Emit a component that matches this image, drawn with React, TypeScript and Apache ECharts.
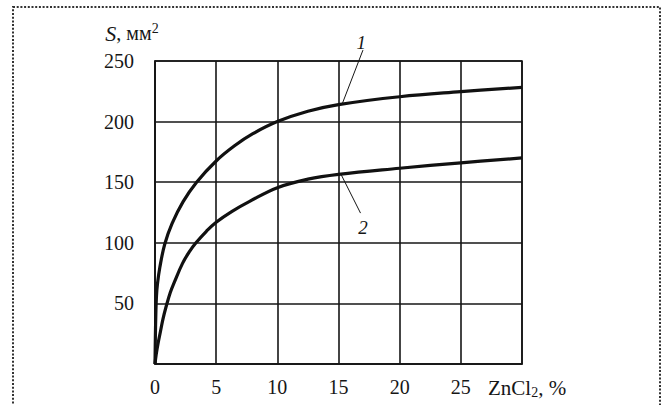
import { useEffect, useRef } from 'react';
import * as echarts from 'echarts';

// Concentration of ZnCl2, % (tick labels on the x axis)
const xTickLabels = ['0', '5', '10', '15', '20', '25'];
// S, mm² tick labels on the y axis
const yTickLabels = ['50', '100', '150', '200', '250'];

// Curve 1
const curve1X = [0, 0.03, 0.07, 0.12, 0.2, 0.4, 0.8, 1.4, 2.3, 3.4, 5, 6.5, 8, 10, 12.5, 15, 20, 25, 30];
const curve1S = [0, 22, 42, 56, 66, 80, 99, 116, 134, 150, 167.5, 180, 190, 200, 208.5, 214, 220.5, 224.7, 228.3];
// Curve 2
const curve2X = [0, 0.1, 0.25, 0.45, 0.65, 0.9, 1.25, 1.6, 2.25, 2.8, 3.35, 4.2, 5, 6.3, 7.7, 10, 12.5, 15, 20, 25, 30];
const curve2S = [0, 8, 17, 27, 37, 47, 59, 68, 83, 92.5, 100, 109.5, 117, 126, 134, 145.5, 152.5, 156.5, 161.5, 166, 170];

const curveLabels = ['1', '2'];
// Leader lines in data units: [point on the curve, free end]
const leader1 = [[15.3, 214.5], [17.0, 259]];
const leader2 = [[15.2, 156.6], [16.8, 124.5]];
// Positions of the curve numbers in data units
const label1At = [16.85, 265];
const label2At = [17.0, 113];

const FONT = '"Liberation Serif", "Times New Roman", serif';
const INK = '#161616';

export default function App() {
  const ref = useRef<HTMLDivElement>(null);

  useEffect(() => {
    if (!ref.current) return;
    const chart = echarts.init(ref.current, undefined, { renderer: 'svg' });

    const option: any = {
      animation: false,
      backgroundColor: '#ffffff',
      grid: {
        left: 155,
        right: 145,
        top: 61,
        bottom: 41,
        show: true,
        borderColor: INK,
        borderWidth: 1.6,
        containLabel: false,
      },
      xAxis: {
        type: 'value',
        min: 0,
        max: 30,
        interval: 5,
        name: '{n|ZnCl}{s|2}{n|, %}',
        nameLocation: 'end',
        nameGap: -34,
        nameTextStyle: {
          align: 'left',
          verticalAlign: 'top',
          padding: [12, 0, 0, 0],
          rich: {
            n: { fontFamily: FONT, fontSize: 21, color: INK },
            s: { fontFamily: FONT, fontSize: 14, color: INK, padding: [9, 0, 0, 0] },
          },
        },
        axisLine: { show: true, lineStyle: { color: INK, width: 1.6 } },
        axisTick: { show: false },
        splitLine: { show: true, lineStyle: { color: INK, width: 1.6 } },
        axisLabel: {
          margin: 13,
          fontFamily: FONT,
          fontSize: 20,
          color: INK,
          formatter: (v: number) => xTickLabels[Math.round(v / 5)] ?? '',
        },
      },
      yAxis: {
        type: 'value',
        min: 0,
        max: 250,
        interval: 50,
        name: '{i|S}{n|, мм}{p|2}',
        nameLocation: 'end',
        nameGap: 28,
        nameTextStyle: {
          align: 'center',
          verticalAlign: 'middle',
          padding: [0, 46, 0, 0],
          rich: {
            i: { fontFamily: FONT, fontSize: 22, fontStyle: 'italic', color: INK },
            n: { fontFamily: FONT, fontSize: 20, color: INK },
            p: { fontFamily: FONT, fontSize: 14, color: INK, padding: [0, 0, 10, 0] },
          },
        },
        axisLine: { show: true, lineStyle: { color: INK, width: 1.6 } },
        axisTick: { show: false },
        splitLine: { show: true, lineStyle: { color: INK, width: 1.6 } },
        axisLabel: {
          margin: 21,
          fontFamily: FONT,
          fontSize: 20,
          color: INK,
          padding: [0, 0, 7, 0],
          formatter: (v: number) => (v === 0 ? '' : yTickLabels[Math.round(v / 50) - 1] ?? ''),
        },
      },
      series: [
        {
          name: curveLabels[0],
          type: 'line',
          data: curve1X.map((x, i) => [x, curve1S[i]]),
          smooth: 0.4,
          showSymbol: false,
          lineStyle: { color: '#111', width: 3.2 },
          z: 5,
        },
        {
          name: curveLabels[1],
          type: 'line',
          data: curve2X.map((x, i) => [x, curve2S[i]]),
          smooth: 0.4,
          showSymbol: false,
          lineStyle: { color: '#111', width: 3.2 },
          z: 5,
        },
      ],
    };

    chart.setOption(option);

    const px = (p: number[]) => chart.convertToPixel({ gridIndex: 0 }, p) as number[];
    const leaderLine = (seg: number[][]) => {
      const a = px(seg[0]);
      const b = px(seg[1]);
      return {
        type: 'line',
        shape: { x1: a[0], y1: a[1], x2: b[0], y2: b[1] },
        style: { stroke: INK, lineWidth: 1 },
        z: 10,
      };
    };
    const curveText = (text: string, at: number[]) => {
      const p = px(at);
      return {
        type: 'text',
        x: p[0],
        y: p[1],
        style: {
          text,
          fontFamily: FONT,
          fontStyle: 'italic',
          fontSize: 19,
          fill: INK,
          align: 'center',
          verticalAlign: 'middle',
        },
        z: 10,
      };
    };

    chart.setOption({
      graphic: [
        {
          type: 'rect',
          shape: { x: 13, y: 7, width: 647, height: 430 },
          style: { fill: 'none', stroke: '#333', lineWidth: 2, lineDash: [2, 1.7] },
          silent: true,
        },
        leaderLine(leader1),
        leaderLine(leader2),
        curveText(curveLabels[0], label1At),
        curveText(curveLabels[1], label2At),
      ],
    });

    return () => chart.dispose();
  }, []);

  return (
    <div
      ref={ref}
      style={{ position: 'fixed', left: 0, top: 0, width: 667, height: 405 }}
    />
  );
}
